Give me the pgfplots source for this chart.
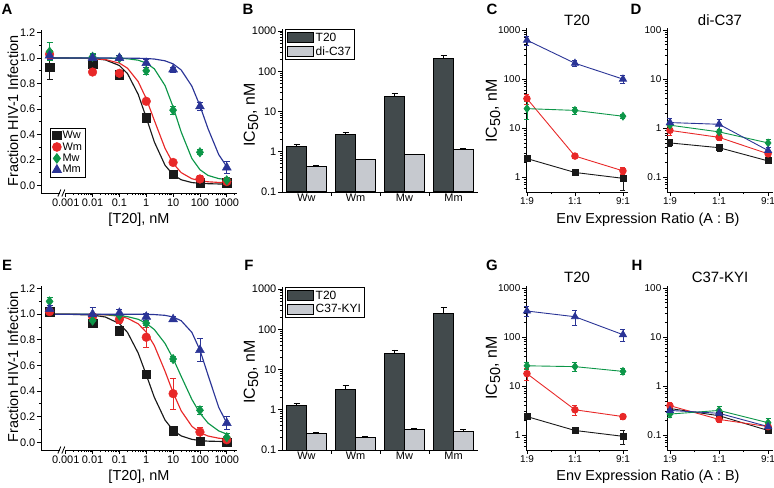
\documentclass[border=0pt]{standalone}
\usepackage{fontspec}
\setmainfont{Liberation Sans}
\setsansfont{Liberation Sans}
\usepackage{pgfplots}
\pgfplotsset{compat=1.18}

\definecolor{cK}{RGB}{25,25,25}
\definecolor{cR}{RGB}{232,40,40}
\definecolor{cG}{RGB}{12,150,72}
\definecolor{cB}{RGB}{42,52,150}
\definecolor{barD}{RGB}{66,74,76}
\definecolor{barL}{RGB}{198,201,207}

\newcommand\fs[1]{\fontsize{#1}{#1}\selectfont}
\newcommand\icl{\fs{16}IC{\fs{14.5}\raisebox{-0.45ex}{50}}, nM}

\pgfplotsset{
  panel/.style={scale only axis, clip=false, axis lines*=left,
    axis line style={line width=0.9pt, black},
    tick align=outside, major tick length=4bp, minor tick length=2.2bp,
    every tick/.append style={line width=0.8pt, black},
    tick label style={font=\fs{11}},
    xticklabel style={inner sep=1.5pt},
    yticklabel style={inner sep=1.5pt}},
  dose/.style={xmin=1.2e-4, xmax=2400, ymin=-0.06, ymax=1.22,
    xtick={1e-3,1e-2,1e-1,1,10,100,1000},
    xticklabels={0.001,0.01,0.1,1,10,100,1000},
    minor xtick={0.002,0.003,0.004,0.005,0.006,0.007,0.008,0.009,0.02,0.03,0.04,0.05,0.06,0.07,0.08,0.09,0.2,0.3,0.4,0.5,0.6,0.7,0.8,0.9,2,3,4,5,6,7,8,9,20,30,40,50,60,70,80,90,200,300,400,500,600,700,800,900,2000},
    ytick={0,0.2,0.4,0.6,0.8,1,1.2},
    yticklabels={0.0,0.2,0.4,0.6,0.8,1.0,1.2},
    minor ytick={0.1,0.3,0.5,0.7,0.9,1.1}},
  bars/.style={log origin=infty, xmin=-0.5, xmax=3.5, ymin=0.1, ymax=1120,
    ytick={0.1,1,10,100,1000}, yticklabels={0.1,1,10,100,1000},
    minor ytick={0.2,0.3,0.4,0.5,0.6,0.7,0.8,0.9,2,3,4,5,6,7,8,9,20,30,40,50,60,70,80,90,200,300,400,500,600,700,800,900},
    xtick={0.5,1.5,2.5}, xticklabels={,,},
    extra x ticks={0,1,2,3}, extra x tick labels={Ww,Wm,Mw,Mm},
    extra x tick style={major tick length=0pt},
    legend cell align=left},
  ratio/.style={xmin=-0.02, xmax=2.105, xtick={0,1,2},
    xticklabels={1:9,1:1,9:1}, minor xtick={0.5,1.5},
    tick label style={font=\fs{10}}},
  ratioT/.style={ratio, ymin=0.5, ymax=1100, ytick={1,10,100,1000},
    yticklabels={1,10,100,1000},
    minor ytick={0.6,0.7,0.8,0.9,2,3,4,5,6,7,8,9,20,30,40,50,60,70,80,90,200,300,400,500,600,700,800,900}},
  ratioC/.style={ratio, xmin=-0.06, xmax=2.1, ymin=0.05, ymax=110,
    ytick={0.1,1,10,100}, yticklabels={0.1,1,10,100},
    minor ytick={0.06,0.07,0.08,0.09,0.2,0.3,0.4,0.5,0.6,0.7,0.8,0.9,2,3,4,5,6,7,8,9,20,30,40,50,60,70,80,90}},
  mK/.style={cK, mark=square*, mark options={solid, fill=cK}},
  mR/.style={cR, mark=*, mark options={solid, fill=cR}},
  mG/.style={cG, mark=diamond*, mark options={solid, fill=cG}},
  mB/.style={cB, mark=triangle*, mark options={solid, fill=cB}},
  fitc/.style={line width=1.15pt, forget plot},
  pts/.style={only marks, error bars/y dir=both, error bars/y explicit,
    error bars/error bar style={line width=0.8pt},
    error bars/error mark options={rotate=90, mark size=3bp, line width=0.8pt}},
  ln/.style={line width=0.9pt, error bars/y dir=both, error bars/y explicit,
    error bars/error bar style={line width=0.8pt},
    error bars/error mark options={rotate=90, mark size=2.5bp, line width=0.8pt}},
  barp/.style={ybar, bar width=19.5bp, bar shift=0pt, draw=black, line width=1pt,
    error bars/y dir=plus, error bars/y explicit,
    error bars/error bar style={line width=0.9pt, black},
    error bars/error mark options={rotate=90, mark size=3bp, line width=0.9pt, black},
    legend image code/.code={\draw[##1,/tikz/.cd,line width=0.9pt] (0bp,-4.7bp) rectangle (26bp,4.7bp);}},
}

\begin{document}
\begin{tikzpicture}
\useasboundingbox (0,0) rectangle (774bp,488bp);

% ---------- A ----------
\begin{axis}[xmode=log, panel, dose, at={(41bp,295bp)}, width=196bp, height=163bp,
  legend style={at={(0.046,0.399)}, anchor=north west, draw=black, line width=0.8pt,
    font=\fs{11}, inner xsep=2pt, inner ysep=1.5pt, row sep=0pt, nodes={inner sep=1.2pt}},
  legend cell align=left]
\addplot[cK, fitc] coordinates {(2.5e-4,1.0) (1e-3,1.0) (1e-2,0.996) (3e-2,0.985) (0.1,0.941) (0.2,0.878) (0.5,0.715) (1,0.532) (2,0.341) (5,0.158) (10,0.083) (20,0.044) (50,0.022) (100,0.016) (200,0.013) (500,0.011) (1000,0.010)};
\addplot[cR, fitc] coordinates {(2.5e-4,1.0) (1e-3,1.0) (1e-2,0.996) (3e-2,0.988) (0.1,0.960) (0.2,0.920) (0.5,0.815) (1,0.681) (2,0.510) (5,0.291) (10,0.173) (20,0.100) (50,0.052) (100,0.036) (200,0.028) (500,0.023) (1000,0.021)};
\addplot[cG, fitc] coordinates {(2.5e-4,1.0) (1e-3,1.0) (1e-2,1.0) (3e-2,0.999) (0.1,0.998) (0.2,0.994) (0.5,0.983) (1,0.961) (2,0.915) (5,0.784) (10,0.616) (20,0.419) (50,0.211) (100,0.123) (200,0.078) (500,0.053) (1000,0.046)};
\addplot[cB, fitc] coordinates {(2.5e-4,1.0) (1e-3,1.0) (1e-2,1.0) (3e-2,1.0) (0.1,0.999) (0.2,0.999) (0.5,0.998) (1,0.996) (2,0.992) (5,0.978) (10,0.954) (20,0.906) (50,0.779) (100,0.625) (200,0.445) (500,0.242) (1000,0.146)};
\addplot[mK, pts, mark size=4.2pt] coordinates {(2.5e-4,0.93) +- (0,0.10) (0.01,0.95) +- (0,0.02) (0.1,0.87) +- (0,0.02) (1,0.53) +- (0,0.03) (10,0.09) +- (0,0.02) (100,0.02) +- (0,0.02) (1000,0.02) +- (0,0.01)};
\addplot[mR, pts, mark size=4.4pt] coordinates {(2.5e-4,1.03) +- (0,0.03) (0.01,0.89) +- (0,0.02) (0.1,0.88) +- (0,0.02) (1,0.66) +- (0,0.02) (10,0.18) +- (0,0.02) (100,0.05) +- (0,0.03) (1000,0.03) +- (0,0.02)};
\addplot[mG, pts, mark size=4.8pt] coordinates {(2.5e-4,1.05) +- (0,0.07) (0.01,1.01) +- (0,0.03) (0.1,1.00) +- (0,0.02) (1,0.90) +- (0,0.03) (10,0.59) +- (0,0.03) (100,0.26) +- (0,0.02) (1000,0.04) +- (0,0.02)};
\addplot[mB, pts, mark size=5.2pt] coordinates {(2.5e-4,1.02) +- (0,0.03) (0.01,1.00) +- (0,0.03) (0.1,1.00) +- (0,0.02) (1,0.96) +- (0,0.03) (10,0.91) +- (0,0.02) (100,0.62) +- (0,0.03) (1000,0.14) +- (0,0.05)};
\legend{Ww,Wm,Mw,Mm}
\fill[white] (axis cs:7.5e-4,-0.06) ++(-2.5bp,-3bp) rectangle ++(5bp,6bp);
\draw[line width=0.8pt] (axis cs:7.5e-4,-0.06) ++(-4.5bp,-3.5bp) -- ++(3bp,7bp);
\draw[line width=0.8pt] (axis cs:7.5e-4,-0.06) ++(-0.5bp,-3.5bp) -- ++(3bp,7bp);
\end{axis}

% ---------- B ----------
\begin{axis}[ymode=log, panel, bars, at={(282bp,296bp)}, width=196bp, height=163bp,
  legend style={at={(0.015,0.998)}, anchor=north west, draw=black, line width=0.8pt,
    font=\fs{12}, inner xsep=2pt, inner ysep=1.5pt, row sep=1pt, nodes={inner sep=1.5pt}}]
\addplot[barp, fill=barD] coordinates {(-0.2,1.38) +- (0,0.18) (0.8,2.7) +- (0,0.3) (1.8,23) +- (0,5) (2.8,210) +- (0,30)};
\addplot[barp, fill=barL] coordinates {(0.2,0.42) +- (0,0.03) (1.2,0.63) +- (0,0.03) (2.2,0.84) +- (0,0.02) (3.2,1.15) +- (0,0.05)};
\legend{T20,di-C37}
\end{axis}

% ---------- C ----------
\begin{axis}[ymode=log, panel, ratioT, at={(526bp,296bp)}, width=102bp, height=164bp]
\addplot[mK, ln, mark size=3pt] coordinates {(0,2.4) +- (0,0.2) (1,1.25) +- (0,0.1) (2,0.95) +- (0,0.4)};
\addplot[mR, ln, mark size=3.3pt] coordinates {(0,40) +- (0,9) (1,2.7) +- (0,0.3) (2,1.35) +- (0,0.2)};
\addplot[mG, ln, mark size=3.8pt] coordinates {(0,25) +- (0,10) (1,23) +- (0,4) (2,17.5) +- (0,2)};
\addplot[mB, ln, mark size=4pt] coordinates {(0,620) +- (0,130) (1,210) +- (0,30) (2,100) +- (0,20)};
\end{axis}

% ---------- D ----------
\begin{axis}[ymode=log, panel, ratioC, at={(667bp,296bp)}, width=106bp, height=164bp]
\addplot[mK, ln, mark size=3pt] coordinates {(0,0.50) +- (0,0.07) (1,0.40) +- (0,0.06) (2,0.215) +- (0,0.02)};
\addplot[mR, ln, mark size=3.3pt] coordinates {(0,0.90) +- (0,0.2) (1,0.65) +- (0,0.1) (2,0.30) +- (0,0.04)};
\addplot[mG, ln, mark size=3.8pt] coordinates {(0,1.15) +- (0,0.2) (1,0.84) +- (0,0.1) (2,0.50) +- (0,0.1)};
\addplot[mB, ln, mark size=4pt] coordinates {(0,1.30) +- (0,0.3) (1,1.20) +- (0,0.3) (2,0.35) +- (0,0.06)};
\end{axis}

% ---------- E ----------
\begin{axis}[xmode=log, panel, dose, at={(41bp,38bp)}, width=196bp, height=164bp]
\addplot[cK, fitc] coordinates {(2.5e-4,1.0) (1e-3,1.0) (1e-2,0.993) (3e-2,0.978) (0.1,0.926) (0.2,0.858) (0.5,0.697) (1,0.527) (2,0.351) (5,0.174) (10,0.094) (20,0.050) (50,0.023) (100,0.014) (200,0.009) (500,0.007) (1000,0.006)};
\addplot[cR, fitc] coordinates {(2.5e-4,1.0) (1e-3,1.0) (1e-2,0.998) (3e-2,0.995) (0.1,0.984) (0.2,0.968) (0.5,0.925) (1,0.860) (2,0.755) (5,0.555) (10,0.388) (20,0.246) (50,0.125) (100,0.076) (200,0.049) (500,0.032) (1000,0.026)};
\addplot[cG, fitc] coordinates {(2.5e-4,1.0) (1e-3,1.0) (1e-2,0.999) (3e-2,0.996) (0.1,0.989) (0.2,0.981) (0.5,0.960) (1,0.929) (2,0.880) (5,0.772) (10,0.654) (20,0.515) (50,0.335) (100,0.227) (200,0.150) (500,0.089) (1000,0.064)};
\addplot[cB, fitc] coordinates {(2.5e-4,1.0) (1e-3,1.0) (1e-2,1.0) (3e-2,1.0) (0.1,1.0) (0.2,1.0) (0.5,0.999) (1,0.999) (2,0.997) (5,0.991) (10,0.978) (20,0.949) (50,0.858) (100,0.720) (200,0.525) (500,0.273) (1000,0.150)};
\addplot[mK, pts, mark size=4.2pt] coordinates {(2.5e-4,1.02) +- (0,0.02) (0.01,0.93) +- (0,0.02) (0.1,0.87) +- (0,0.03) (1,0.53) +- (0,0.03) (10,0.09) +- (0,0.02) (100,0.01) +- (0,0.03) (1000,0.0) +- (0,0.02)};
\addplot[mR, pts, mark size=4.4pt] coordinates {(2.5e-4,1.02) +- (0,0.02) (0.01,0.98) +- (0,0.03) (0.1,0.96) +- (0,0.03) (1,0.82) +- (0,0.08) (10,0.38) +- (0,0.12) (100,0.08) +- (0,0.04) (1000,0.02) +- (0,0.02)};
\addplot[mG, pts, mark size=4.8pt] coordinates {(2.5e-4,1.10) +- (0,0.03) (0.01,0.95) +- (0,0.03) (0.1,0.99) +- (0,0.02) (1,0.93) +- (0,0.02) (10,0.65) +- (0,0.02) (100,0.25) +- (0,0.03) (1000,0.04) +- (0,0.03)};
\addplot[mB, pts, mark size=5.2pt] coordinates {(2.5e-4,1.04) +- (0,0.03) (0.01,1.00) +- (0,0.05) (0.1,1.01) +- (0,0.03) (1,0.98) +- (0,0.03) (10,0.96) +- (0,0.02) (100,0.72) +- (0,0.09) (1000,0.15) +- (0,0.05)};
\fill[white] (axis cs:7.5e-4,-0.06) ++(-2.5bp,-3bp) rectangle ++(5bp,6bp);
\draw[line width=0.8pt] (axis cs:7.5e-4,-0.06) ++(-4.5bp,-3.5bp) -- ++(3bp,7bp);
\draw[line width=0.8pt] (axis cs:7.5e-4,-0.06) ++(-0.5bp,-3.5bp) -- ++(3bp,7bp);
\end{axis}

% ---------- F ----------
\begin{axis}[ymode=log, panel, bars, at={(282bp,38bp)}, width=196bp, height=163bp,
  legend style={at={(0.015,0.998)}, anchor=north west, draw=black, line width=0.8pt,
    font=\fs{12}, inner xsep=2pt, inner ysep=1.5pt, row sep=1pt, nodes={inner sep=1.5pt}}]
\addplot[barp, fill=barD] coordinates {(-0.2,1.27) +- (0,0.17) (0.8,3.24) +- (0,0.8) (1.8,25.5) +- (0,5) (2.8,251) +- (0,100)};
\addplot[barp, fill=barL] coordinates {(0.2,0.26) +- (0,0.012) (1.2,0.207) +- (0,0.012) (2.2,0.327) +- (0,0.025) (3.2,0.286) +- (0,0.03)};
\legend{T20,C37-KYI}
\end{axis}

% ---------- G ----------
\begin{axis}[ymode=log, panel, ratioT, at={(526bp,38bp)}, width=102bp, height=164bp]
\addplot[mK, ln, mark size=3pt] coordinates {(0,2.4) +- (0,0.2) (1,1.25) +- (0,0.1) (2,0.95) +- (0,0.3)};
\addplot[mR, ln, mark size=3.3pt] coordinates {(0,18) +- (0,5) (1,3.3) +- (0,0.8) (2,2.4) +- (0,0.3)};
\addplot[mG, ln, mark size=3.8pt] coordinates {(0,26) +- (0,4) (1,25) +- (0,5) (2,20) +- (0,3)};
\addplot[mB, ln, mark size=4pt] coordinates {(0,340) +- (0,80) (1,260) +- (0,90) (2,112) +- (0,30)};
\end{axis}

% ---------- H ----------
\begin{axis}[ymode=log, panel, ratioC, at={(667bp,38bp)}, width=106bp, height=164bp]
\addplot[mK, ln, mark size=3pt] coordinates {(0,0.35) +- (0,0.05) (1,0.25) +- (0,0.03) (2,0.125) +- (0,0.015)};
\addplot[mR, ln, mark size=3.3pt] coordinates {(0,0.40) +- (0,0.07) (1,0.21) +- (0,0.03) (2,0.15) +- (0,0.02)};
\addplot[mG, ln, mark size=3.8pt] coordinates {(0,0.27) +- (0,0.04) (1,0.32) +- (0,0.06) (2,0.18) +- (0,0.04)};
\addplot[mB, ln, mark size=4pt] coordinates {(0,0.32) +- (0,0.05) (1,0.28) +- (0,0.04) (2,0.15) +- (0,0.02)};
\end{axis}

% ---------- labels ----------
\begin{scope}[font=\fs{15}\bfseries]
\node at (7bp,479bp) {A};
\node at (248bp,479bp) {B};
\node at (492bp,479bp) {C};
\node at (636bp,479bp) {D};
\node at (7bp,223bp) {E};
\node at (249bp,223bp) {F};
\node at (492bp,223bp) {G};
\node at (637bp,223bp) {H};
\end{scope}
\begin{scope}[font=\fs{14.5}]
\node[rotate=90] at (13bp,377bp) {Fraction HIV-1 Infection};
\node[rotate=90] at (13bp,121bp) {Fraction HIV-1 Infection};
\node at (139bp,268bp) {[T20], nM};
\node at (139bp,11bp) {[T20], nM};
\node[rotate=90] at (251bp,373bp) {\icl};
\node[rotate=90] at (251bp,116bp) {\icl};
\node[rotate=90] at (493bp,377bp) {\icl};
\node[rotate=90] at (493bp,120bp) {\icl};
\node at (648bp,268bp) {Env Expression Ratio (A : B)};
\node at (648bp,11bp) {Env Expression Ratio (A : B)};
\end{scope}
\begin{scope}[font=\fs{15}]
\node at (577bp,468bp) {T20};
\node at (720bp,468bp) {di-C37};
\node at (577bp,211bp) {T20};
\node at (720bp,211bp) {C37-KYI};
\end{scope}
\end{tikzpicture}
\end{document}
